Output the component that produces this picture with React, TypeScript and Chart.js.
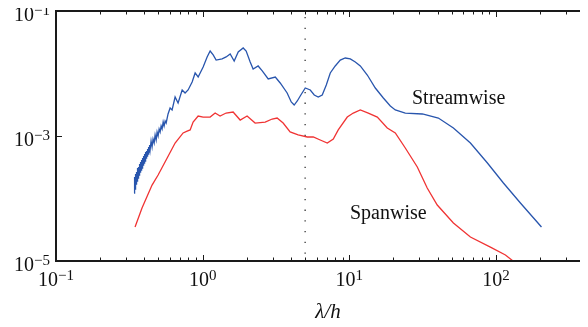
import React, { useEffect, useRef } from "react";
import { Chart, registerables } from "chart.js";

Chart.register(...registerables);

// Streamwise spectrum (lambda/h, value)
const streamX = [
  0.3406, 0.3435, 0.3460, 0.3488, 0.3515, 0.3543, 0.3571, 0.3599, 0.3628, 0.3656,
  0.3685, 0.3715, 0.3744, 0.3774, 0.3803, 0.3834, 0.3864, 0.3895, 0.3925, 0.3957,
  0.3988, 0.4019, 0.4051, 0.4083, 0.4115, 0.4147, 0.4181, 0.4213, 0.4247, 0.4280,
  0.4315, 0.4348, 0.4383, 0.445, 0.452, 0.459, 0.467, 0.474, 0.482, 0.489, 0.497,
  0.505, 0.513, 0.521, 0.529, 0.538, 0.546, 0.555, 0.564,
  0.581, 0.600, 0.619, 0.649, 0.680, 0.725, 0.759, 0.796, 0.848, 0.889, 0.932,
  1.008, 1.073, 1.125, 1.18, 1.236, 1.358, 1.446, 1.541, 1.641, 1.748, 1.890, 1.981,
  2.11, 2.21, 2.39, 2.55, 2.80, 3.13, 3.38, 3.77, 4.02, 4.21, 4.42, 4.63, 5.01, 5.42,
  5.77, 6.14, 6.54, 6.97, 7.42, 8.02, 8.68, 9.39, 10.16, 10.99, 11.89, 13.27, 15.05,
  17.07, 19.05, 20.6, 24.1, 31.5, 40.5, 51.3, 67.0, 87.5, 112.5, 146.9, 204.5,
];
const streamY = [
  1.225e-4, 2.208e-4, 1.419e-4, 2.466e-4, 1.706e-4, 2.655e-4, 1.905e-4, 3.076e-4, 2.128e-4, 3.192e-4,
  2.377e-4, 3.565e-4, 2.655e-4, 3.837e-4, 2.858e-4, 4.13e-4, 3.076e-4, 4.446e-4, 3.436e-4, 4.786e-4,
  3.698e-4, 5.152e-4, 3.981e-4, 5.546e-4, 4.446e-4, 5.754e-4, 4.786e-4, 6.194e-4, 5.152e-4, 6.668e-4,
  5.546e-4, 7.178e-4, 5.97e-4, 8.318e-4, 6.668e-4, 8.954e-4, 7.727e-4, 1.038e-3, 8.63e-4, 1.159e-3, 1.0e-3,
  1.294e-3, 1.159e-3, 1.445e-3, 1.294e-3, 1.675e-3, 1.445e-3, 1.738e-3, 1.614e-3,
  2.25e-3, 2.81e-3, 2.61e-3, 4.21e-3, 3.37e-3, 5.45e-3, 4.88e-3, 5.45e-3, 7.31e-3, 1.02e-2, 8.79e-3,
  1.27e-2, 1.84e-2, 2.29e-2, 1.98e-2, 1.64e-2, 1.71e-2, 1.84e-2, 2.05e-2, 1.58e-2, 2.21e-2, 2.56e-2, 2.29e-2,
  1.53e-2, 1.18e-2, 1.32e-2, 1.10e-2, 8.17e-3, 8.79e-3, 7.05e-3, 4.88e-3, 3.50e-3, 3.13e-3, 3.63e-3, 4.37e-3, 5.86e-3, 5.45e-3,
  4.53e-3, 4.21e-3, 4.53e-3, 6.55e-3, 1.02e-2, 1.32e-2, 1.64e-2, 1.77e-2, 1.71e-2, 1.53e-2, 1.32e-2, 9.46e-3, 5.86e-3,
  4.06e-3, 3.02e-3, 2.61e-3, 2.33e-3, 2.25e-3, 1.94e-3, 1.34e-3, 7.73e-4, 3.70e-4, 1.77e-4, 8.47e-5, 3.50e-5,
];

// Spanwise spectrum
const spanX = [
  0.346, 0.386, 0.452, 0.497, 0.573, 0.649, 0.736, 0.784, 0.822, 0.861, 0.932, 1.008,
  1.125, 1.217, 1.315, 1.446, 1.614, 1.803, 2.01, 2.28, 2.67, 2.98, 3.22, 3.54, 3.95,
  4.48, 5.17, 5.68, 6.34, 7.08, 7.78, 8.41, 9.69, 10.65, 11.89, 13.48, 15.53, 18.16,
  20.6, 24.1, 29.1, 34.0, 39.8, 51.3, 67.0, 91.7, 116.1, 133.7,
];
const spanY = [
  3.50e-5, 7.05e-5, 1.64e-4, 2.38e-4, 4.45e-4, 7.73e-4, 1.12e-3, 1.20e-3, 1.25e-3, 1.67e-3, 2.09e-3, 2.01e-3,
  2.01e-3, 2.33e-3, 2.09e-3, 2.33e-3, 2.42e-3, 1.80e-3, 2.09e-3, 1.61e-3, 1.67e-3, 1.87e-3, 1.94e-3, 1.61e-3, 1.16e-3,
  1.04e-3, 9.64e-4, 9.64e-4, 8.63e-4, 7.73e-4, 8.95e-4, 1.25e-3, 2.01e-3, 2.33e-3, 2.61e-3, 2.33e-3, 2.01e-3, 1.34e-3,
  1.12e-3, 6.43e-4, 3.19e-4, 1.47e-4, 7.87e-5, 4.06e-5, 2.42e-5, 1.67e-5, 1.25e-5, 9.6e-6,
];

const xTicks = [0.1, 1, 10, 100];
const xTickExp = ["\u22121", "0", "1", "2"];
const yTicks = [1e-1, 1e-3, 1e-5];
const yTickExp = ["\u22121", "\u22123", "\u22125"];
const markerX = 5;
const X_MIN = 0.1;
const X_MAX = 424.6;
const Y_MIN = 1e-5;
const Y_MAX = 1e-1;

const SERIF = "'Liberation Serif', 'Times New Roman', serif";

function drawPow(ctx: CanvasRenderingContext2D, exp: string, x: number, y: number, align: "center" | "right") {
  ctx.font = `20px ${SERIF}`;
  const wb = ctx.measureText("10").width;
  ctx.font = `15px ${SERIF}`;
  const we = ctx.measureText(exp).width;
  const total = wb + we;
  const start = align === "center" ? x - total / 2 : x - total;
  ctx.textAlign = "left";
  ctx.textBaseline = "alphabetic";
  ctx.font = `20px ${SERIF}`;
  ctx.fillText("10", start, y);
  ctx.font = `15px ${SERIF}`;
  ctx.fillText(exp, start + wb, y - 6);
}

const decorPlugin = {
  id: "decor",
  beforeDatasetsDraw(chart: any) {
    const { ctx, chartArea, scales } = chart;
    const px = scales.x.getPixelForValue(markerX);
    ctx.save();
    ctx.strokeStyle = "#333";
    ctx.lineWidth = 1.3;
    ctx.setLineDash([1.3, 9.4]);
    ctx.beginPath();
    ctx.moveTo(px, chartArea.top + 6);
    ctx.lineTo(px, chartArea.bottom);
    ctx.stroke();
    ctx.restore();
  },
  afterDraw(chart: any) {
    const { ctx, chartArea, scales } = chart;
    const { left, right, top, bottom } = chartArea;
    ctx.save();
    ctx.strokeStyle = "#1a1a1a";
    ctx.lineWidth = 2;
    ctx.beginPath();
    ctx.moveTo(left, top);
    ctx.lineTo(right + 2, top);
    ctx.moveTo(left, top - 1);
    ctx.lineTo(left, bottom + 1);
    ctx.moveTo(left - 1, bottom);
    ctx.lineTo(right + 2, bottom);
    ctx.stroke();

    ctx.lineWidth = 1;
    ctx.beginPath();
    for (let d = -1; d <= 2; d++) {
      for (let m = 1; m <= 9; m++) {
        const v = m * Math.pow(10, d);
        if (v < X_MIN || v > X_MAX) continue;
        const p = Math.round(scales.x.getPixelForValue(v)) + 0.5;
        const len = m === 1 ? 6 : 3.5;
        ctx.moveTo(p, bottom);
        ctx.lineTo(p, bottom - len);
        ctx.moveTo(p, top);
        ctx.lineTo(p, top + len);
      }
    }
    for (const v of yTicks) {
      const p = Math.round(scales.y.getPixelForValue(v)) + 0.5;
      ctx.moveTo(left, p);
      ctx.lineTo(left + 6, p);
    }
    ctx.stroke();

    ctx.fillStyle = "#111";
    xTicks.forEach((v, i) => {
      const p = scales.x.getPixelForValue(v);
      drawPow(ctx, xTickExp[i], p, 278, "center");
    });
    yTicks.forEach((v, i) => {
      const p = scales.y.getPixelForValue(v);
      drawPow(ctx, yTickExp[i], 42, p + 10, "right");
    });

    ctx.textAlign = "center";
    ctx.font = `italic 21px ${SERIF}`;
    ctx.fillText("\u03bb/h", 320, 310);

    ctx.textAlign = "left";
    ctx.font = `20px ${SERIF}`;
    ctx.fillText("Streamwise", 404, 96);
    ctx.fillText("Spanwise", 342, 211);
    ctx.restore();
  },
};

export default function App() {
  const ref = useRef<HTMLCanvasElement>(null);
  useEffect(() => {
    if (!ref.current) return;
    const chart = new Chart(ref.current, {
      type: "line",
      data: {
        datasets: [
          {
            label: "Streamwise",
            data: streamX.map((x, i) => ({ x, y: streamY[i] })),
            borderColor: "#2855ad",
            borderWidth: 1.3,
            pointRadius: 0,
            tension: 0,
          },
          {
            label: "Spanwise",
            data: spanX.map((x, i) => ({ x, y: spanY[i] })),
            borderColor: "#f03333",
            borderWidth: 1.3,
            pointRadius: 0,
            tension: 0,
          },
        ],
      },
      options: {
        animation: false,
        responsive: false,
        layout: { padding: { top: 3, right: 0, left: 0, bottom: 0 } },
        plugins: { legend: { display: false }, tooltip: { enabled: false } },
        scales: {
          x: {
            type: "logarithmic",
            min: X_MIN,
            max: X_MAX,
            ticks: { display: false },
            grid: { display: false },
            border: { display: false },
            afterFit: (s: any) => {
              s.height = 66;
            },
          },
          y: {
            type: "logarithmic",
            min: Y_MIN,
            max: Y_MAX,
            ticks: { display: false },
            grid: { display: false },
            border: { display: false },
            afterFit: (s: any) => {
              s.width = 48;
            },
          },
        },
      },
      plugins: [decorPlugin],
    });
    return () => chart.destroy();
  }, []);
  return (
    <div style={{ width: 580, height: 319 }}>
      <canvas ref={ref} width={580} height={319} style={{ display: "block" }} />
    </div>
  );
}
